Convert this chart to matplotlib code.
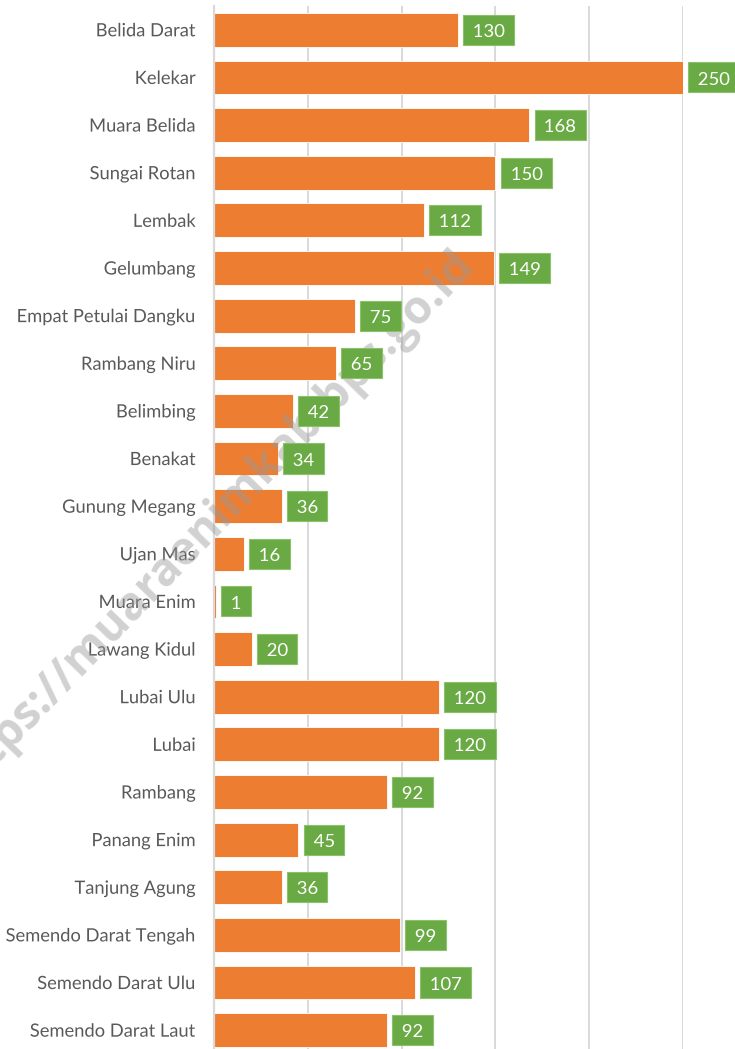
import matplotlib
matplotlib.use("Agg")
import matplotlib.pyplot as plt
import matplotlib.patheffects as pe
from matplotlib.path import Path

categories = ["Belida Darat", "Kelekar", "Muara Belida", "Sungai Rotan", "Lembak",
              "Gelumbang", "Empat Petulai Dangku", "Rambang Niru", "Belimbing", "Benakat",
              "Gunung Megang", "Ujan Mas", "Muara Enim", "Lawang Kidul", "Lubai Ulu",
              "Lubai", "Rambang", "Panang Enim", "Tanjung Agung", "Semendo Darat Tengah",
              "Semendo Darat Ulu", "Semendo Darat Laut"]
values = [130, 250, 168, 150, 112, 149, 75, 65, 42, 34, 36, 16, 1, 20, 120, 120, 92, 45,
          36, 99, 107, 92]
xticks = [0, 50, 100, 150, 200, 250]

FONT = "Lato"
W, H, DPI = 735, 1049, 100
fig = plt.figure(figsize=(W / DPI, H / DPI), dpi=DPI)
ax_left, ax_right = 214, 683
ax_top, ax_bottom = 6, 1054
ax = fig.add_axes([ax_left / W, 1 - ax_bottom / H, (ax_right - ax_left) / W, (ax_bottom - ax_top) / H])

ypos = list(range(len(categories)))
ax.barh(ypos, values, height=0.71, color="#ED7D31", edgecolor="white", linewidth=0.6, zorder=3)
ax.set_xlim(0, 250)
ax.set_ylim(len(categories) - 0.5, -0.5)
ax.set_xticks(xticks)
ax.set_xticklabels([])
ax.tick_params(axis="x", length=0)
ax.tick_params(axis="y", length=0, pad=13)
ax.grid(axis="x", color="#D9D9D9", linewidth=1.4, zorder=0)
for s in ["top", "right", "bottom"]:
    ax.spines[s].set_visible(False)
ax.spines["left"].set_color("#D9D9D9")
ax.spines["left"].set_linewidth(1.6)
ax.spines["left"].set_zorder(4)
ax.set_yticks(ypos)
ax.set_yticklabels(categories, fontsize=13.2, color="#595959", family=FONT)
for t in ax.get_yticklabels():
    t.set_path_effects([pe.withStroke(linewidth=3, foreground="white")])
    t.set_zorder(10)

# watermark (between bars and value boxes)
ax.text(209 / W, 1 - 524 / H, "https://muaraenimkab.bps.go.id", transform=fig.transFigure,
        rotation=46, ha="center", va="center", fontsize=33, fontweight="bold",
        family="Open Sans", color="#9A9A9A", alpha=0.45, zorder=5, clip_on=False)


def value_box(x0, y0, width, height, mutation_size):
    padx = 0.26 * mutation_size
    pady = 0.38 * mutation_size
    shift = 0.115 * mutation_size  # raise the box so the digits look centred
    x1, y1 = x0 - padx, y0 - pady + shift
    x2, y2 = x0 + width + padx, y0 + height + pady + shift
    return Path([(x1, y1), (x2, y1), (x2, y2), (x1, y2), (x1, y1)], closed=True)


for y, v in zip(ypos, values):
    ax.annotate(f" {v} ", xy=(v, y), xytext=(7.3, -1.5), textcoords="offset points",
                ha="left", va="center", fontsize=13.3, color="white", family=FONT,
                bbox=dict(boxstyle=value_box, facecolor="#6AAA44",
                          edgecolor="#8CC06A", linewidth=0.8),
                annotation_clip=False, zorder=6)

fig.savefig("out.png", dpi=DPI)
